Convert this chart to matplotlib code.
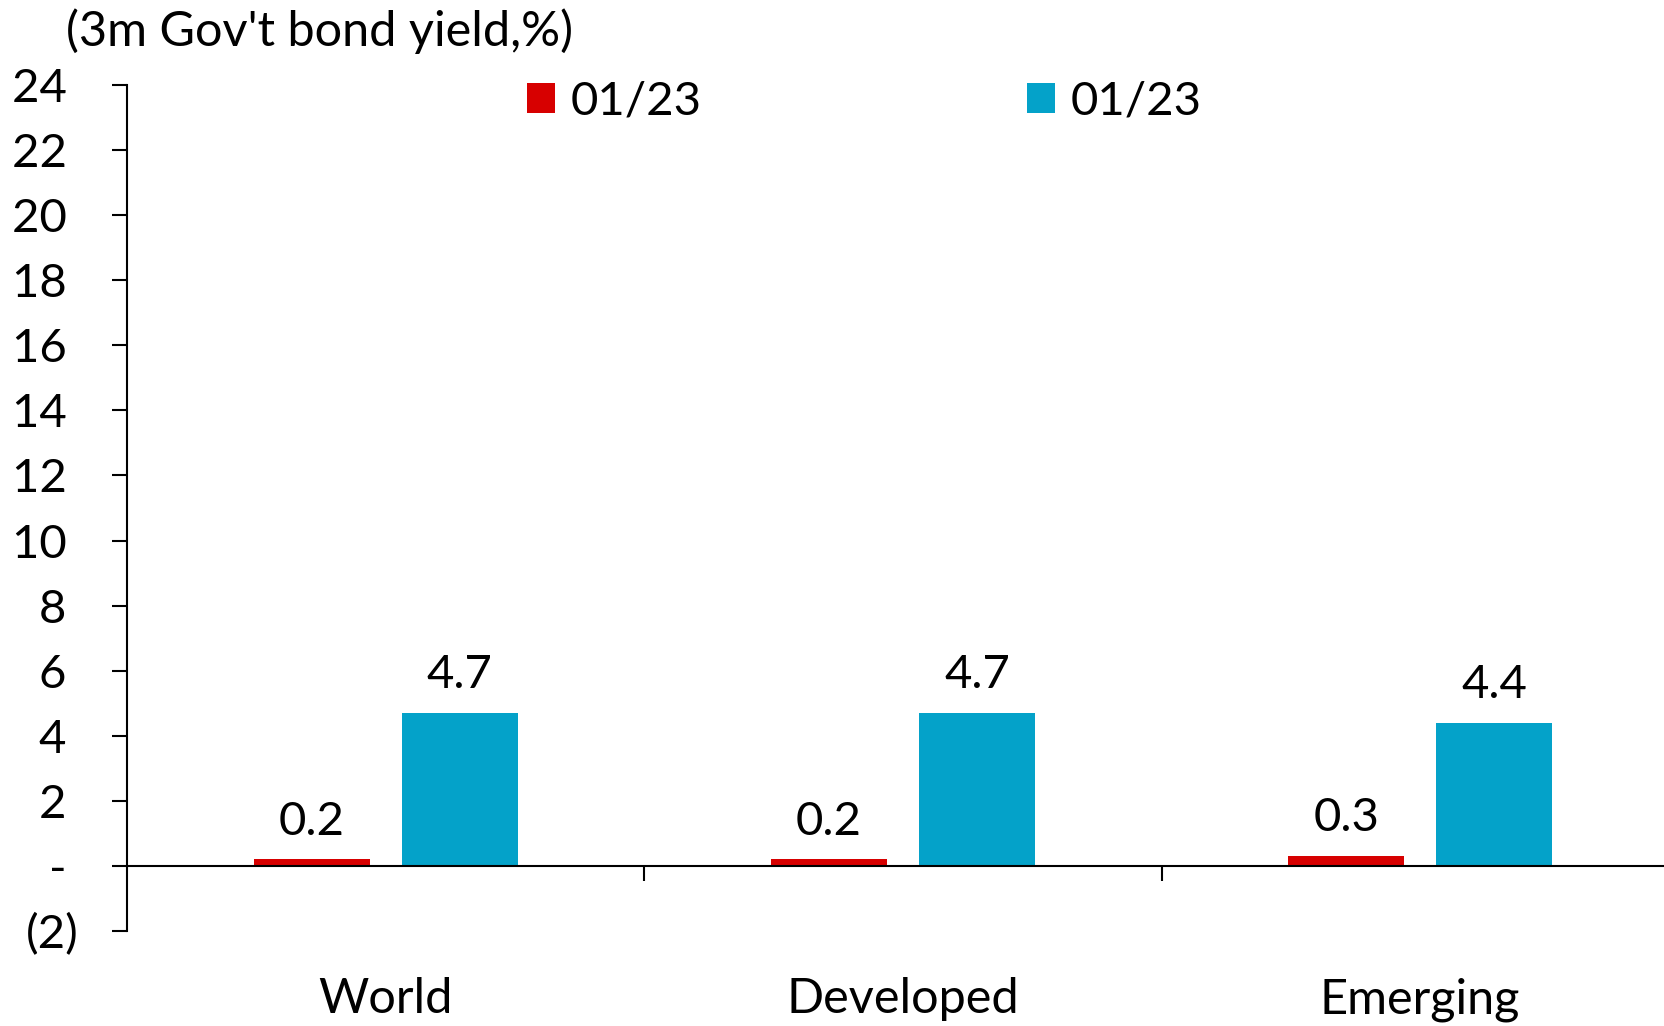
import matplotlib
matplotlib.use("Agg")
import matplotlib.pyplot as plt
import numpy as np

# Data
categories = ["World", "Developed", "Emerging"]
series_names = ["01/23", "01/23"]
yield_prev = [0.2, 0.2, 0.3]
yield_curr = [4.7, 4.7, 4.4]
colors = ["#D70000", "#04A2C9"]

plt.rcParams["font.family"] = ["Lato", "DejaVu Sans"]

fig = plt.figure(figsize=(16.65, 10.26), dpi=100)
ax = fig.add_axes([0.0765, 0.0926, 0.9317, 0.8246])

x = np.arange(len(categories)) + 0.5
bar_width = 0.224
offset = 0.143

bars1 = ax.bar(x - offset, yield_prev, width=bar_width, color=colors[0], label=series_names[0])
bars2 = ax.bar(x + offset, yield_curr, width=bar_width, color=colors[1], label=series_names[1])

# value labels above bars
for bars, vals in ((bars1, yield_prev), (bars2, yield_curr)):
    for b, v in zip(bars, vals):
        ax.annotate(f"{v:.1f}", (b.get_x() + b.get_width() / 2, v),
                    xytext=(0, 12), textcoords="offset points",
                    ha="center", va="bottom", fontsize=34)

ax.set_xlim(0, len(categories))
ax.set_ylim(-2, 24)

# y ticks in accounting style: dash for zero, parentheses for negatives
yticks = np.arange(-2, 25, 2)
def fmt(v):
    if v == 0:
        return "- "
    if v < 0:
        return f"({abs(v):.0f})"
    return f"{v:.0f} "
ax.set_yticks(yticks)
ax.set_yticklabels([fmt(v) for v in yticks])
ax.tick_params(axis="y", direction="out", length=11, width=1.5, labelsize=34, pad=24)

# category separators on the zero line, names underneath
ax.spines["bottom"].set_position(("data", 0))
ax.set_xticks([1, 2])
ax.set_xticklabels([])
ax.set_xticks(x, minor=True)
ax.set_xticklabels(categories, minor=True)
ax.tick_params(axis="x", which="major", direction="out", length=11, width=1.5)
ax.tick_params(axis="x", which="minor", length=0, labelsize=35, pad=80)

for side in ("top", "right"):
    ax.spines[side].set_visible(False)
for side in ("left", "bottom"):
    ax.spines[side].set_linewidth(1.5)

ax.legend(loc="upper center", bbox_to_anchor=(0.475, 1.055), ncol=2, frameon=False,
          fontsize=34, handlelength=0.6, handleheight=0.6, handletextpad=0.32,
          columnspacing=6.9)

fig.text(0.0395, 0.97, "(3m Gov't bond yield,%)", fontsize=35, ha="left", va="center")

fig.savefig("out.png", dpi=100)
